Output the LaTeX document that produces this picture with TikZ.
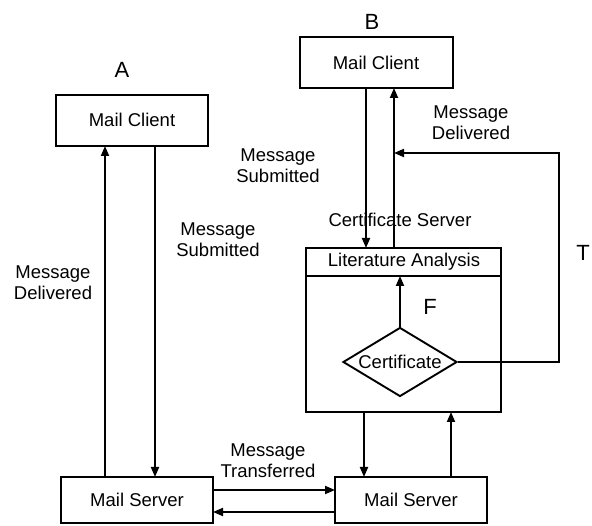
\documentclass[tikz,border=0pt]{standalone}
\usepackage{fontspec}
\setmainfont{Liberation Sans}
\usetikzlibrary{arrows.meta,shapes.geometric}
\begin{document}
\begin{tikzpicture}[x=1pt,y=-1pt,
  every node/.style={font=\fontsize{18.5}{21}\selectfont, inner sep=0pt},
  box/.style={draw, line width=1.9pt},
  lbl/.style={align=center},
  big/.style={font=\fontsize{22}{24}\selectfont},
  conn/.style={line width=1.9pt},
  arr/.style={conn, -{Triangle[length=10pt,width=8pt]}}]
\useasboundingbox (0,0) rectangle (592,526);
% boxes
\draw[box] (56,95) rectangle (208,146);
\node (clientA) at (132,120) {Mail Client};
\draw[box] (300,37) rectangle (453,88);
\node (clientB) at (376,63) {Mail Client};
\draw[box] (61,477) rectangle (213,523);
\node (serverA) at (137,500) {Mail Server};
\draw[box] (335,477) rectangle (487,523);
\node (serverB) at (411,500) {Mail Server};
\draw[box] (306,248) rectangle (501,412);
\draw[conn] (306,276) -- (501,276);
\node (lit) at (404,262) {Literature Analysis};
\node[draw, diamond, line width=1.9pt, minimum width=114pt, minimum height=69pt, aspect=1.65, inner sep=0pt] (cert) at (400,362) {Certificate};
% coordinates
\coordinate (cAb1) at (105,146);
\coordinate (sAt1) at (105,477);
\coordinate (cAb2) at (155,146);
\coordinate (sAt2) at (155,477);
\coordinate (cBb1) at (366,88);
\coordinate (lTop1) at (366,248);
\coordinate (cBb2) at (394,88);
\coordinate (lTop2) at (394,248);
\coordinate (hdr) at (400,276);
\coordinate (fbR) at (559,362);
\coordinate (fbT) at (559,153);
\coordinate (fbL) at (394,153);
\coordinate (lBot1) at (364,412);
\coordinate (sBt1) at (364,477);
\coordinate (lBot2) at (451,412);
\coordinate (sBt2) at (451,477);
\coordinate (sAr1) at (213,490);
\coordinate (sBl1) at (335,490);
\coordinate (sAr2) at (213,512);
\coordinate (sBl2) at (335,512);
% connectors
\draw[arr] (sAt1) -- (cAb1);
\draw[arr] (cAb2) -- (sAt2);
\draw[arr] (cBb1) -- (lTop1);
\draw[arr] (lTop2) -- (cBb2);
\draw[arr] (cert.north) -- (hdr);
\draw[arr] (cert.east) -- (fbR) -- (fbT) -- (fbL);
\draw[arr] (lBot1) -- (sBt1);
\draw[arr] (sBt2) -- (lBot2);
\draw[arr] (sAr1) -- (sBl1);
\draw[arr] (sBl2) -- (sAr2);
% labels
\node[big] (labA) at (122,70) {A};
\node[big] (labB) at (372,22) {B};
\node[big] (labF) at (430,307) {F};
\node[big] (labT) at (583,253) {T};
\node[lbl] (msA) at (218,240) {Message\\Submitted};
\node[lbl] (mdA) at (53,283) {Message\\Delivered};
\node[lbl] (msB) at (278,166) {Message\\Submitted};
\node[lbl] (mdB) at (471,123) {Message\\Delivered};
\node (cs) at (400,220) {Certificate Server};
\node[lbl] (mt) at (268,461) {Message\\Transferred};
\end{tikzpicture}
\end{document}
